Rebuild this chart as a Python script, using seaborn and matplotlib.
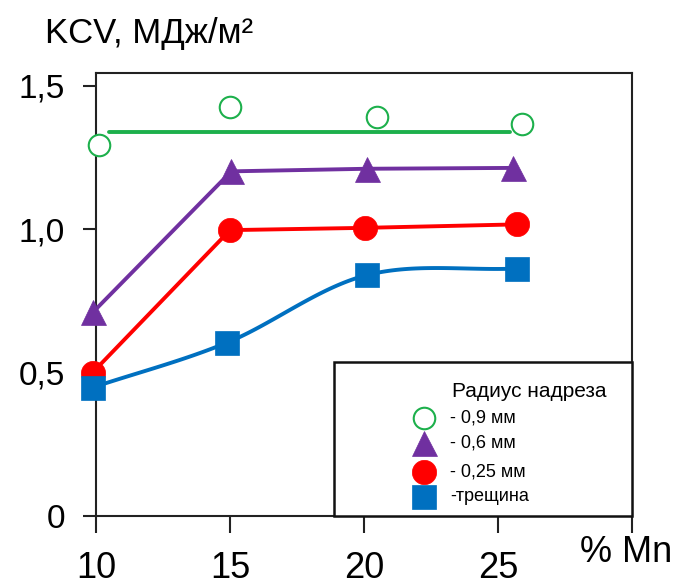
import numpy as np
import pandas as pd
import matplotlib
matplotlib.use("Agg")
import matplotlib.pyplot as plt
from matplotlib.patches import Rectangle
import seaborn as sns

# ---- data ----
mn_green = [10.1, 15.0, 20.5, 25.9]
kcv_green = [1.293, 1.428, 1.391, 1.368]
green_fit_x = [10.5, 25.45]
green_fit_y = [1.338, 1.338]

mn_purple = [9.9, 15.05, 20.1, 25.55]
kcv_purple = [0.712, 1.202, 1.211, 1.214]

mn_red = [9.87, 15.0, 20.05, 25.7]
kcv_red = [0.50, 0.997, 1.005, 1.017]

mn_blue = [9.87, 14.9, 20.1, 25.7]
kcv_blue = [0.448, 0.605, 0.840, 0.863]

x_ticks = [10, 15, 20, 25, 30]
x_ticklabels = ["10", "15", "20", "25", ""]
y_ticks = [0, 0.5, 1.0, 1.5]
y_ticklabels = ["0", "0,5", "1,0", "1,5"]

legend_title = "Радиус надреза"
legend_labels = ["- 0,9 мм", "- 0,6 мм", "- 0,25 мм", "-трещина"]
y_label = "KCV, МДж/м²"
x_label = "% Mn"

GREEN = "#1db04c"
PURPLE = "#7030a0"
RED = "#ff0000"
BLUE = "#0070c0"

sns.set_style("white")
plt.rcParams["font.family"] = ["Liberation Sans", "DejaVu Sans"]
plt.rcParams["text.color"] = "black"
plt.rcParams["xtick.labelcolor"] = "black"
plt.rcParams["ytick.labelcolor"] = "black"

fig = plt.figure(figsize=(6.8, 5.86), dpi=100)
ax = fig.add_axes([96 / 680, 70 / 586, 536 / 680, 443 / 586])


def catmull_rom(xs, ys, n=40):
    P = np.column_stack([xs, ys]).astype(float)
    k = len(P)
    out = []
    for i in range(k - 1):
        p0, p1 = P[i], P[i + 1]
        m0 = (P[i + 1] - P[i - 1]) / 2 if i > 0 else (P[1] - P[0])
        m1 = (P[i + 2] - P[i]) / 2 if i + 2 < k else (P[k - 1] - P[k - 2])
        t = np.linspace(0, 1, n)[:, None]
        h00 = 2 * t**3 - 3 * t**2 + 1
        h10 = t**3 - 2 * t**2 + t
        h01 = -2 * t**3 + 3 * t**2
        h11 = t**3 - t**2
        seg = h00 * p0 + h10 * m0 + h01 * p1 + h11 * m1
        out.append(seg if i == 0 else seg[1:])
    arr = np.vstack(out)
    return arr[:, 0], arr[:, 1]


LW = 2.8
# lines
sns.lineplot(x=green_fit_x, y=green_fit_y, ax=ax, color=GREEN, lw=LW, zorder=2)
sns.lineplot(x=mn_purple, y=kcv_purple, ax=ax, color=PURPLE, lw=LW, zorder=2,
             sort=False, estimator=None)
sns.lineplot(x=mn_red, y=kcv_red, ax=ax, color=RED, lw=LW, zorder=2,
             sort=False, estimator=None)
bx, by = catmull_rom(mn_blue, kcv_blue)
sns.lineplot(x=bx, y=by, ax=ax, color=BLUE, lw=LW, zorder=2, sort=False,
             estimator=None)

# markers
ax.plot(mn_green, kcv_green, ls="none", marker="o", ms=15.5, mfc="white",
        mec=GREEN, mew=1.5, zorder=3, clip_on=False)
ax.plot(mn_purple, kcv_purple, ls="none", marker="^", ms=18, mfc=PURPLE,
        mec=PURPLE, mew=0.5, zorder=3, clip_on=False)
ax.plot(mn_red, kcv_red, ls="none", marker="o", ms=17.5, mfc=RED,
        mec=RED, mew=0.5, zorder=3, clip_on=False)
ax.plot(mn_blue, kcv_blue, ls="none", marker="s", ms=17.5, mfc=BLUE,
        mec=BLUE, mew=0.5, zorder=4, clip_on=False)

ax.set_xlim(10, 30)
ax.set_ylim(0, 1.545)
ax.set_xticks(x_ticks)
ax.set_xticklabels(x_ticklabels)
ax.set_yticks(y_ticks)
ax.set_yticklabels(y_ticklabels)
ax.set_xlabel("")
ax.set_ylabel("")

for sp in ax.spines.values():
    sp.set_visible(True)
    sp.set_color("#222222")
    sp.set_linewidth(1.5)

ax.tick_params(axis="x", direction="out", length=12, width=1.5, color="#222222",
               pad=13, labelsize=26, bottom=True, labelcolor="black")
ax.tick_params(axis="y", direction="out", length=9.5, width=1.5, color="#222222",
               pad=13, labelsize=24, left=True, labelcolor="black")
ax.grid(False)

# legend box (custom)
ax.add_patch(Rectangle((0.444, 0.0), 0.556, 0.348, transform=ax.transAxes,
                       fill=True, facecolor="white", edgecolor="#111111",
                       lw=1.8, zorder=5, clip_on=False))
ax.text(0.664, 0.280, legend_title, transform=ax.transAxes, fontsize=15,
        ha="left", va="center", zorder=6, color="black")
leg_y = [0.221, 0.165, 0.099, 0.043]
leg_style = [
    dict(marker="o", ms=15.5, mfc="white", mec=GREEN, mew=1.5),
    dict(marker="^", ms=18, mfc=PURPLE, mec=PURPLE, mew=0.5),
    dict(marker="o", ms=17.5, mfc=RED, mec=RED, mew=0.5),
    dict(marker="s", ms=17.5, mfc=BLUE, mec=BLUE, mew=0.5),
]
for yy, lab, st in zip(leg_y, legend_labels, leg_style):
    ax.plot([0.612], [yy], transform=ax.transAxes, ls="none", zorder=6,
            clip_on=False, **st)
    ax.text(0.660, yy, lab, transform=ax.transAxes, fontsize=13,
            ha="left", va="center", zorder=6, color="black")

fig.text(45 / 680, 1 - 34 / 586, y_label, fontsize=25, ha="left", va="center",
         color="black")
fig.text(580 / 680, 1 - 552 / 586, x_label, fontsize=26, ha="left", va="center",
         color="black")

fig.savefig("out.png", dpi=100)
